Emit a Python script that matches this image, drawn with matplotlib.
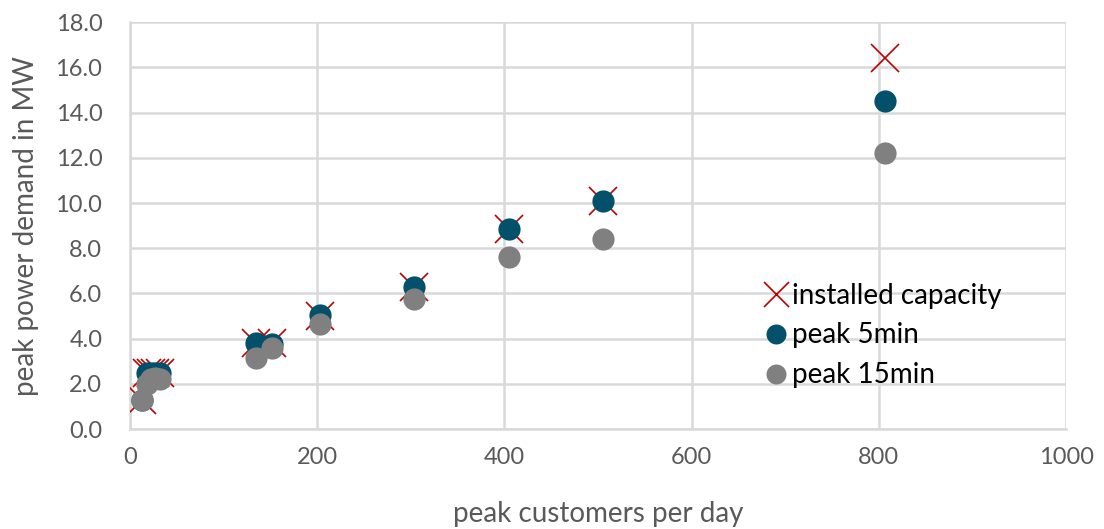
import numpy as np
import matplotlib
matplotlib.use('Agg')
import matplotlib.pyplot as pp
import matplotlib.ticker as ticker

pp.rcParams['font.family'] = ['Lato', 'DejaVu Sans']

# peak customers per day
cust = [13, 18, 22, 27, 32, 135, 152, 203, 303, 405, 505, 807]
# MW
cap = [1.3, 2.5, 2.5, 2.5, 2.5, 3.8, 3.8, 5.0, 6.3, 8.85, 10.1, 16.4]
p5 = [1.3, 2.5, 2.5, 2.5, 2.5, 3.8, 3.75, 5.05, 6.3, 8.85, 10.1, 14.5]
p15 = [1.3, 2.0, 2.2, 2.25, 2.2, 3.15, 3.6, 4.65, 5.75, 7.6, 8.4, 12.2]

fig = pp.figure(figsize=(11.04, 5.29), dpi=100)
ax = fig.add_axes([0.1178, 0.189, 0.8478, 0.769])

ax.plot(cust, cap, 'x', color='#C00000', markersize=20, markeredgewidth=1.2,
        label='installed capacity', zorder=3)
ax.plot(cust, p5, 'o', color='#03506B', markersize=16, markeredgewidth=0,
        label='peak 5min', zorder=4)
ax.plot(cust, p15, 'o', color='#808080', markersize=16, markeredgewidth=0,
        label='peak 15min', zorder=5)

ax.set_xlim(0, 1000)
ax.set_ylim(0, 18)
ax.set_xticks(range(0, 1001, 200))
ax.set_yticks(np.arange(0, 18.1, 2))
ax.yaxis.set_major_formatter(ticker.FormatStrFormatter('%.1f'))
ax.grid(True, color='#D9D9D9', linewidth=1.8)
ax.set_axisbelow(True)
for s in ['top', 'right']:
    ax.spines[s].set_visible(False)
for s in ['left', 'bottom']:
    ax.spines[s].set_color('#D9D9D9')
    ax.spines[s].set_linewidth(1.8)
ax.tick_params(length=0, labelsize=17, colors='#595959')
ax.tick_params(axis='x', pad=13)
ax.tick_params(axis='y', pad=20)
ax.set_xlabel('peak customers per day', fontsize=20, color='#595959', labelpad=24)
ax.set_ylabel('peak power demand in MW', fontsize=20, color='#595959', labelpad=12)

leg = ax.legend(loc='center left', bbox_to_anchor=(0.655, 0.23), frameon=False,
                fontsize=20, handlelength=0.6, handletextpad=0.25,
                labelspacing=0.5, markerscale=0.9)
for t in leg.get_texts():
    t.set_color('#000000')

pp.savefig('out.png', dpi=100)
